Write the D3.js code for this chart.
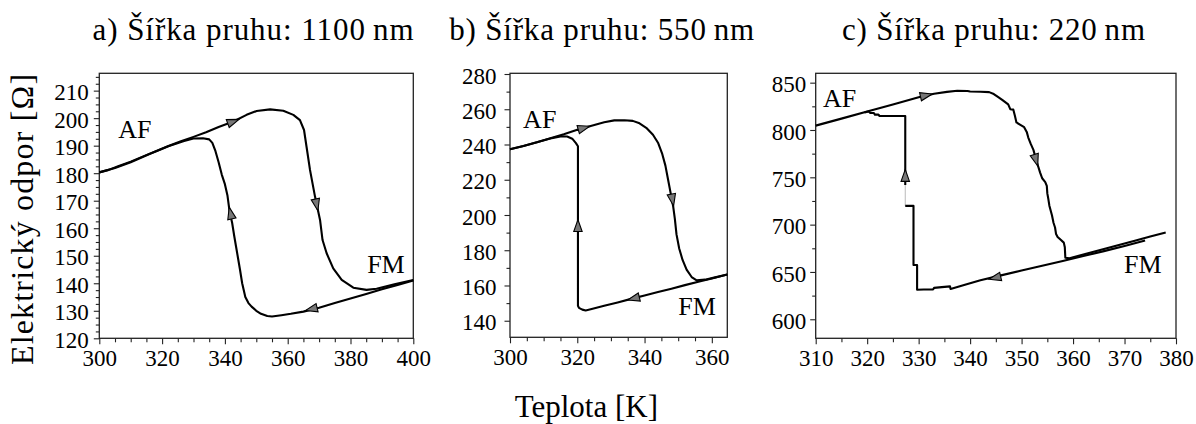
<!DOCTYPE html>
<html>
<head>
<meta charset="utf-8">
<script src="https://cdn.jsdelivr.net/npm/d3@7"></script>
<style>
  body { margin: 0; background: #fff; }
</style>
</head>
<body>
<div id="visualization"></div>
<script>
// Panel titles
const titles = [
  "a) Šířka pruhu: 1100\u2009nm",
  "b) Šířka pruhu: 550\u2009nm",
  "c) Šířka pruhu: 220\u2009nm"
];

// Axis ranges (temperature [K], resistance [Ohm])
const tempDomains = [[300, 400], [300, 364.6], [310, 380]];
const resDomains = [[120, 216.3], [130.6, 280.4], [579.9, 859.9]];

// Tick values
const tempTicks = [
  [300, 320, 340, 360, 380, 400],
  [300, 320, 340, 360],
  [310, 320, 330, 340, 350, 360, 370, 380]
];
const tempMinorStep = [5, 5, 5];
const resTicks = [
  [120, 130, 140, 150, 160, 170, 180, 190, 200, 210],
  [140, 160, 180, 200, 220, 240, 260, 280],
  [600, 650, 700, 750, 800, 850]
];
const resMinorStep = [2.5, 10, 25];

// a) 1100 nm : heating and cooling branches [T, R]
const heatA = [[300,180.3],[303,181.2],[306,182.5],[310,184.2],[314,186.1],[318,188.0],[322,189.9],[326,191.6],[330,193.2],
  [334,194.9],[338,196.8],[342.7,198.8],[346.9,201.2],[350.1,202.6],[354.4,203.2],[358.6,202.7],[361.8,201.2],[363.9,199.3],
  [365.2,195.7],[366,189.6],[367.1,181.2],[368.7,171.5],[370.3,163],[371.1,155.7],[372.4,150.9],[374.5,145.4],[377.2,141.2],
  [380.9,138.4],[385.1,137.6],[388.3,138],[394,139.6],[400,141.2]];
const coolA = [[400,141.0],[395,139.4],[390,137.8],[385,136.1],[380,134.5],[375,132.8],[370,131.1],[365,129.7],[361,128.9],
  [358,128.4],[355,127.9],[353.5,128.1],[351.5,128.9],[350,130],[348.5,131.5],[347.5,132.8],[346.5,135],[345.5,140],
  [344.8,145],[344.2,149],[343.6,153],[343,157],[342.3,162],[341.5,166],[340.8,172],[340,176],[339,179.5],[338,184],
  [337,188],[336,191],[335,192.3],[333,192.7],[330,192.6],[327,191.7],[322,189.8],[316,187.0],[310,184.0],[305,181.9],[300,180.3]];
const arrowsA = [[0, 342.7, 198.8], [0, 369.2, 168.5], [1, 367.5, 130.6], [1, 341.8, 165.5]];
const labelsA = [["AF", 306.0, 192.8], ["FM", 385.3, 143.8]];

// b) 550 nm
const heatB = [[300,237.3],[304,239.2],[308,241.3],[312,243.6],[316,245.8],[320,248.3],[324,250.5],[328,252.6],[331,253.7],
  [334,253.8],[336.5,253.4],[338.5,252],[340.5,249.5],[342.5,245.5],[344,241],[345.2,235],[346.2,228],[347,220],[347.8,212],
  [348.5,205],[349,198],[349.5,189],[350.3,181],[351.3,174.5],[352.5,169],[354,164.8],[355.5,162.9],[358,163.3],[361,164.6],[364.6,166.2]];
const coolB = [[364.6,166.2],[360,164.0],[356,162.1],[352,160.2],[348,158.2],[344,156.3],[340,154.3],[336,152.4],[332,150.4],
  [328,148.5],[324,146.5],[322.5,145.8],[321.5,146.3],[320.5,147.3],[320.2,148.5],[320.2,239],[319.6,240.8],[318.5,243.3],
  [317,244.5],[315,244.6],[312,243.4],[308,241.3],[304,239.2],[300,237.3]];
const arrowsB = [[0, 322, 249.4], [0, 348.3, 208.5], [1, 336.7, 152.6], [1, 320.2, 194]];
const labelsB = [["AF", 303.9, 249.4], ["FM", 350.0, 143.2]];

// c) 220 nm
const heatC = [[310,804.6],[315,812],[320,819.5],[325,827],[330,834.6],[333,838.3],[335.5,840.3],[337.5,841.4],[339.5,841.2],
  [340,840.6],[342,840.4],[343.7,840],[344.6,838],[345.4,835],[346.3,831.5],[347.4,827],[347.8,822],[348.4,821.5],[348.7,815],
  [349,808],[349.6,806],[350.5,803],[351,798],[351.3,792],[351.8,785],[352.3,779],[352.7,771],[353.2,762],[353.6,755],
  [354,749],[354.6,745],[354.9,741],[355,733],[355.2,727],[355.4,720],[355.9,710],[356.2,702],[356.5,697],[356.7,690],
  [357,687],[357.6,684],[358.2,681],[358.4,676],[358.5,665],[359.3,664.5],[364,671.3],[368,677.1],[372,683],[375,687.4],[378,691.6]];
const coolC = [[374,683.2],[370,677.5],[366,672],[362,666.8],[358,661.6],[354,656.6],[350,651.5],[346,646.4],[342,641.2],
  [339,636.5],[336.2,632],[336.1,634.8],[334.5,634],[333,633.2],[332.8,631.5],[331,631.5],[329.7,631.2],[329.7,657.4],
  [329.0,657.4],[329.0,719.8],[327.4,719.8]];
const coolC2 = [[327.4,742],[327.4,814.8],[322.4,814.8],[322.2,816.2],[321.5,816.2],[321.3,818],[320.6,818],[320.3,819.5],[319.5,818.6]];
const arrowsC = [[0, 331.5, 836.6], [0, 352.8, 768], [1, 344.8, 643.8], [2, 327.4, 752]];
const labelsC = [["AF", 311.4, 824.3], ["FM", 369.9, 649.2]];

const curvesAll = [[heatA, coolA], [heatB, coolB], [heatC, coolC, coolC2]];
const arrowsAll = [arrowsA, arrowsB, arrowsC];
const labelsAll = [labelsA, labelsB, labelsC];

// layout (pixels)
const boxes = [
  { left: 99.3, right: 413.3, top: 73.3, bottom: 338.3, labelPad: 5 },
  { left: 510, right: 727.3, top: 73.3, bottom: 337.3, labelPad: 8 },
  { left: 815.7, right: 1176, top: 73.3, bottom: 338.3, labelPad: 4 }
];
const titlePos = [[253, 321], [601.7, 305], [993.5, 303]];

const serif = "'Liberation Serif'";

const svg = d3.select('#visualization')
  .append('svg')
  .attr('width', 1196)
  .attr('height', 424)
  .style('font-family', serif);

const range = (lo, hi, step) => {
  const out = [];
  const start = Math.ceil(lo / step - 1e-9) * step;
  for (let v = start; v <= hi + 1e-9; v += step) out.push(+v.toFixed(4));
  return out;
};

// stretch a text to a target width with letter spacing
const fitWidth = (sel, target) => {
  const n = sel.text().length;
  const w = sel.node().getComputedTextLength();
  sel.style('letter-spacing', ((target - w) / (n - 1)).toFixed(2) + 'px');
};

const drawArrow = (g, pts, px, py) => {
  // direction from nearest segment of the curve
  let best = null, bestD = Infinity;
  for (let i = 0; i < pts.length - 1; i++) {
    const [ax, ay] = pts[i], [bx, by] = pts[i + 1];
    const dx = bx - ax, dy = by - ay;
    const len2 = dx * dx + dy * dy;
    if (len2 === 0) continue;
    let t = ((px - ax) * dx + (py - ay) * dy) / len2;
    t = Math.max(0, Math.min(1, t));
    const cx = ax + t * dx, cy = ay + t * dy;
    const d = (px - cx) ** 2 + (py - cy) ** 2;
    if (d < bestD) { bestD = d; best = [dx, dy]; }
  }
  const angle = Math.atan2(best[1], best[0]) * 180 / Math.PI;
  g.append('path')
    .attr('d', 'M6,0 L-6,-4.2 L-6,4.2 Z')
    .attr('transform', `translate(${px},${py}) rotate(${angle})`)
    .attr('fill', '#777')
    .attr('stroke', '#000')
    .attr('stroke-width', 1.1);
};

boxes.forEach((b, i) => {
  const x = d3.scaleLinear().domain(tempDomains[i]).range([b.left, b.right]);
  const y = d3.scaleLinear().domain(resDomains[i]).range([b.bottom, b.top]);
  const g = svg.append('g');

  // minor ticks
  const xMinor = range(tempDomains[i][0], tempDomains[i][1], tempMinorStep[i]).filter(v => !tempTicks[i].includes(v));
  const yMinor = range(resDomains[i][0], resDomains[i][1], resMinorStep[i]).filter(v => !resTicks[i].includes(v));

  const gx = g.append('g').attr('transform', `translate(0,${b.bottom})`);
  gx.call(d3.axisBottom(x).tickValues(tempTicks[i]).tickSize(6).tickPadding(5).tickSizeOuter(0));
  gx.append('g').call(d3.axisBottom(x).tickValues(xMinor).tickSize(4).tickFormat('').tickSizeOuter(0));
  const gy = g.append('g').attr('transform', `translate(${b.left},0)`);
  gy.call(d3.axisLeft(y).tickValues(resTicks[i]).tickSize(5.5).tickPadding(b.labelPad).tickSizeOuter(0));
  gy.append('g').call(d3.axisLeft(y).tickValues(yMinor).tickSize(3.5).tickFormat('').tickSizeOuter(0));

  g.selectAll('.domain').remove();
  g.selectAll('g').attr('font-family', null).attr('font-size', null);
  g.selectAll('.tick line').attr('stroke', '#222').attr('stroke-width', 1.1);
  g.selectAll('.tick text')
    .style('font-family', serif)
    .style('font-size', '23px')
    .attr('fill', '#000');
  gy.selectAll('.tick text').attr('dy', '0.40em');

  // frame
  g.append('rect')
    .attr('x', b.left).attr('y', b.top)
    .attr('width', b.right - b.left).attr('height', b.bottom - b.top)
    .attr('fill', 'none').attr('stroke', '#222').attr('stroke-width', 1.3);

  const line = d3.line().x(d => x(d[0])).y(d => y(d[1]));
  const curves = curvesAll[i];

  // faint connector in panel c between the two cooling pieces
  if (curves.length > 2) {
    const a = curves[1][curves[1].length - 1], c = curves[2][0];
    g.append('line')
      .attr('x1', x(a[0])).attr('y1', y(a[1]))
      .attr('x2', x(c[0])).attr('y2', y(c[1]))
      .attr('stroke', '#bbb').attr('stroke-width', 1);
  }

  curves.forEach(c => {
    g.append('path')
      .attr('d', line(c))
      .attr('fill', 'none')
      .attr('stroke', '#000')
      .attr('stroke-width', 2.1)
      .attr('stroke-linejoin', 'round');
  });

  arrowsAll[i].forEach(([ci, t, r]) => {
    const pts = curves[ci].map(d => [x(d[0]), y(d[1])]);
    drawArrow(g, pts, x(t), y(r));
  });

  labelsAll[i].forEach(([txt, t, r]) => {
    g.append('text')
      .attr('x', x(t)).attr('y', y(r))
      .style('font-family', serif)
      .style('font-size', '26px')
      .text(txt);
  });

  // title
  const title = svg.append('text')
    .attr('x', titlePos[i][0] - titlePos[i][1] / 2).attr('y', 40)
    .style('font-family', serif)
    .style('font-size', '31px')
    .text(titles[i]);
  fitWidth(title, titlePos[i][1]);
});

// axis titles
const yTitle = svg.append('text')
  .attr('transform', 'translate(33,365) rotate(-90)')
  .style('font-family', serif)
  .style('font-size', '32px')
  .text('Elektrický odpor [Ω]');
fitWidth(yTitle, 291);

svg.append('text')
  .attr('x', 658).attr('y', 417)
  .attr('text-anchor', 'end')
  .style('font-family', serif)
  .style('font-size', '31px')
  .text('Teplota [K]');
</script>
</body>
</html>
